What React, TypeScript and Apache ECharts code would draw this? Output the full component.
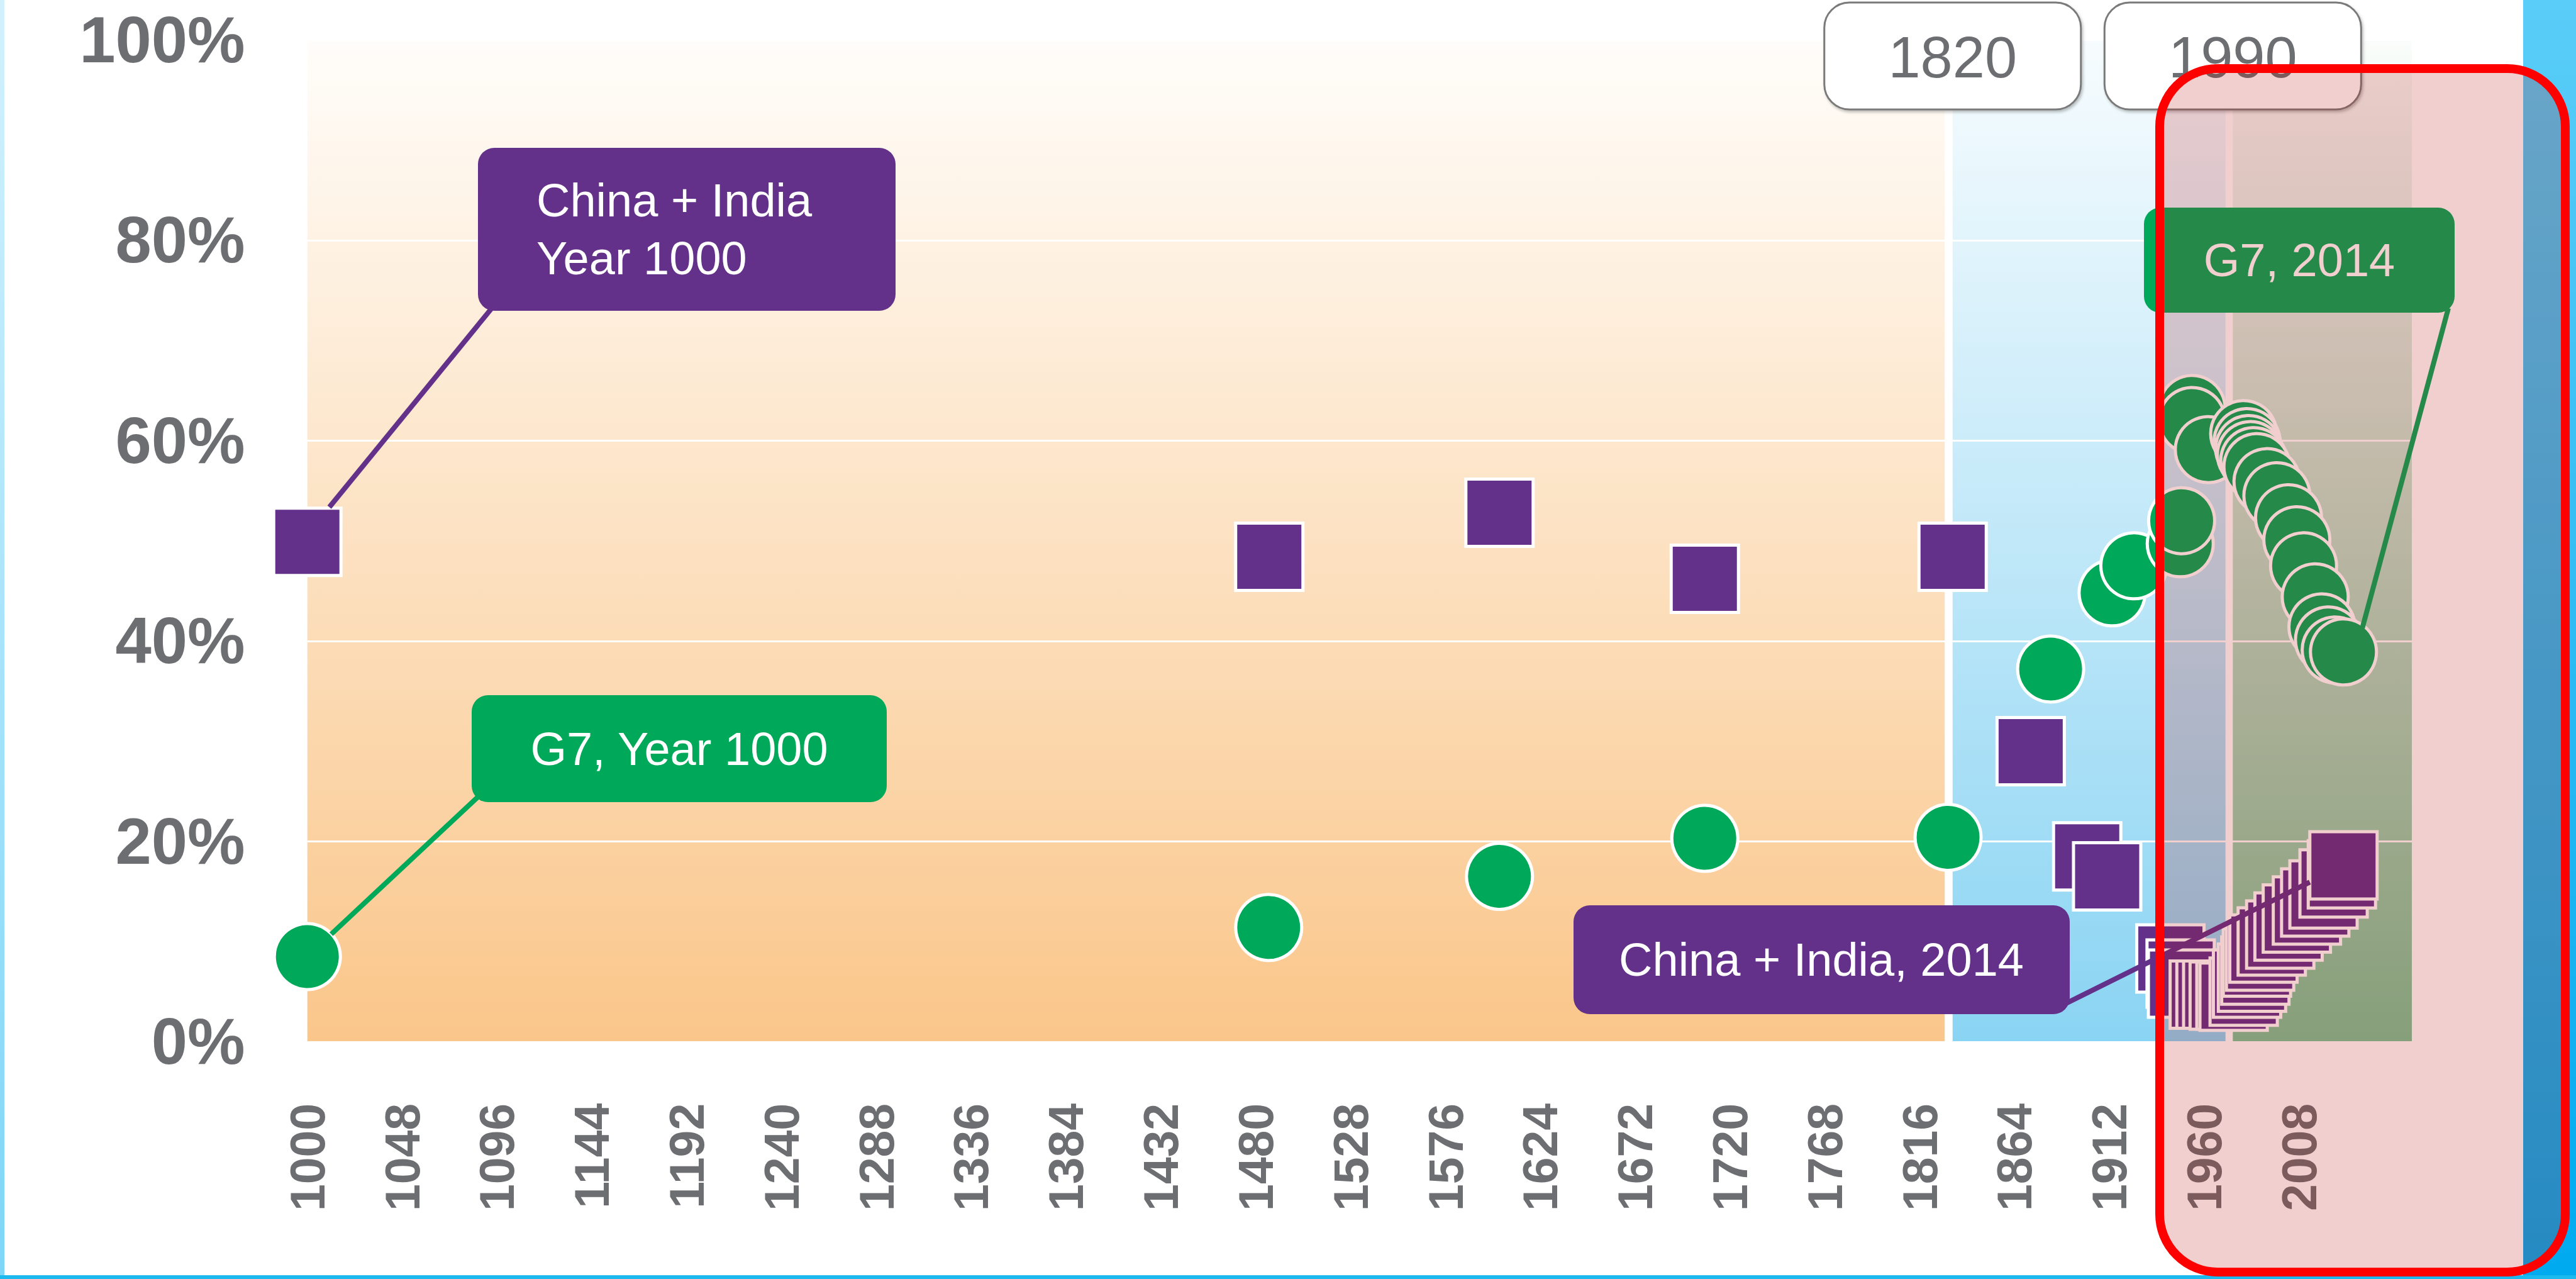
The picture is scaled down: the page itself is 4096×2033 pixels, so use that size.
import React, { useEffect, useRef } from "react";
import * as echarts from "echarts";

// ---- data (x values) ----
const xTickLabels = [1000, 1048, 1096, 1144, 1192, 1240, 1288, 1336, 1384, 1432, 1480, 1528, 1576, 1624, 1672, 1720, 1768, 1816, 1864, 1912, 1960, 2008];
const yTickValues = [0, 20, 40, 60, 80, 100];

const g7X = [1000, 1486.5, 1603.3, 1707.2, 1830.3, 1882.2, 1913.3, 1924.3, 1947.8, 1948.5, 1953.8, 1953.8, 1962.0, 1979.9, 1981.6, 1982.4, 1983.3, 1985.0, 1986.6, 1991.7, 1996.7, 2002.6, 2006.8, 2010.2, 2016.1, 2019.5, 2022.8, 2026.2, 2030.4];
const g7Share = [8.5, 11.4, 16.5, 20.3, 20.4, 37.2, 44.8, 47.5, 49.7, 52.0, 63.2, 62.0, 59.1, 60.7, 59.9, 59.2, 58.6, 58.0, 57.4, 55.9, 54.5, 52.3, 50.1, 47.5, 44.4, 41.4, 40.1, 39.1, 38.9];

const ciX = [1000, 1486.8, 1603.3, 1707.2, 1832.6, 1872.1, 1900.7, 1910.8, 1942.8, 1948.0, 1948.7, 1959.7, 1963.1, 1966.5, 1969.8, 1973.2, 1974.8, 1979.9, 1981.6, 1984.1, 1985.8, 1986.6, 1988.2, 1989.9, 1994.1, 1998.4, 2002.6, 2006.8, 2011.9, 2016.1, 2020.3, 2025.4, 2029.6, 2030.4];
const ciShare = [49.9, 48.4, 52.8, 46.2, 48.4, 29.0, 18.5, 16.5, 8.3, 6.8, 5.8, 4.7, 4.7, 4.7, 4.6, 4.6, 4.5, 5.0, 5.8, 6.4, 7.1, 7.9, 8.5, 9.3, 10.0, 10.7, 11.5, 12.3, 13.1, 13.9, 14.7, 15.8, 16.7, 17.6];

const eraStart = [1000, 1832.6, 1974.4];
const eraEnd = [1828.6, 1970.7, 2065];
const eraTop = ["#FFFDFA", "#F7FCFE", "#FAFDFB"];
const eraBottom = ["#FAC68A", "#8AD4F3", "#7AC496"];
const eraLabels = ["1820", "1990"];

const annotationTexts = ["China + India\nYear 1000", "G7, Year 1000", "China + India, 2014", "G7, 2014"];

const PURPLE = "#63318A";
const GREEN = "#00A859";
const GRAY = "#6D6E71";
const FONT = '"Liberation Sans", Arial, Helvetica, sans-serif';

export default function App() {
  const ref = useRef<HTMLDivElement>(null);

  useEffect(() => {
    const chart = echarts.init(ref.current!, undefined, { renderer: "svg" });
    const grad = (top: string, bottom: string) =>
      new echarts.graphic.LinearGradient(0, 0, 0, 1, [
        { offset: 0, color: top },
        { offset: 1, color: bottom },
      ]);

    chart.setOption({
      animation: false,
      backgroundColor: "#ffffff",
      textStyle: { fontFamily: FONT },
      grid: { left: 488.7, right: 245.3, top: 63.3, bottom: 377.2, containLabel: false },
      xAxis: {
        type: "value",
        min: 1000,
        max: 2070,
        z: 1.5,
        axisLine: { show: false },
        axisTick: { show: false },
        splitLine: { show: false },
        axisLabel: {
          customValues: xTickLabels,
          rotate: 90,
          margin: 98,
          color: GRAY,
          fontSize: 77,
          fontWeight: "bold",
          fontFamily: FONT,
          formatter: (v: number) => String(v),
        },
      },
      yAxis: {
        type: "value",
        min: yTickValues[0],
        max: yTickValues[yTickValues.length - 1],
        interval: 20,
        z: 1.5,
        axisLine: { show: false },
        axisTick: { show: false },
        splitLine: { show: true, lineStyle: { color: "#ffffff", width: 3 } },
        axisLabel: {
          formatter: "{value}%",
          margin: 99,
          color: GRAY,
          fontSize: 103,
          fontWeight: "bold",
          fontFamily: FONT,
        },
      },
      series: [
        {
          type: "scatter",
          name: "China + India",
          silent: true,
          clip: false,
          z: 3,
          symbol: "rect",
          symbolSize: 107,
          itemStyle: { color: PURPLE, borderColor: "#ffffff", borderWidth: 5, opacity: 1 },
          data: ciX.map((x, i) => [x, ciShare[i]]),
          markArea: {
            silent: true,
            data: eraStart.map((s, i) => [
              {
                xAxis: s,
                yAxis: 0,
                itemStyle: { color: grad(eraTop[i], eraBottom[i]), opacity: 1, borderWidth: 0 },
              },
              { xAxis: eraEnd[i], yAxis: 100 },
            ]),
          },
        },
        {
          type: "scatter",
          name: "G7",
          silent: true,
          clip: false,
          z: 3,
          symbol: "circle",
          symbolSize: 105,
          itemStyle: { color: GREEN, borderColor: "#ffffff", borderWidth: 5, opacity: 1 },
          data: g7X.map((x, i) => [x, g7Share[i]]),
        },
      ],
    });

    const px = (x: number, y: number) => chart.convertToPixel({ gridIndex: 0 }, [x, y]) as number[];

    const ci0 = px(ciX[0], ciShare[0]);
    const g70 = px(g7X[0], g7Share[0]);
    const ciN = px(ciX[ciX.length - 1], ciShare[ciShare.length - 1]);
    const g7N = px(g7X[g7X.length - 1], g7Share[g7Share.length - 1]);

    const g7StartA = [765, 1262];
    const dx = g7StartA[0] - g70[0];
    const dy = g7StartA[1] - g70[1];
    const dl = Math.sqrt(dx * dx + dy * dy);
    const g70End = [g70[0] + (dx / dl) * 52, g70[1] + (dy / dl) * 52];

    const ciStartN = [3275, 1600];
    const cdx = ciStartN[0] - ciN[0];
    const cdy = ciStartN[1] - ciN[1];
    const ciNEnd = [ciN[0] - 53.5, ciN[1] + (cdy / Math.abs(cdx)) * 53.5];

    const era1 = px(eraStart[1], 100)[0];
    const era2 = px(eraStart[2], 100)[0];

    const leader = (x1: number, y1: number, x2: number, y2: number, color: string) => ({
      type: "line",
      z: 100,
      silent: true,
      shape: { x1, y1, x2, y2 },
      style: { stroke: color, lineWidth: 8 },
    });
    const box = (x: number, y: number, w: number, h: number, color: string) => ({
      type: "rect",
      z: 101,
      silent: true,
      shape: { x, y, width: w, height: h, r: 26 },
      style: { fill: color },
    });
    const label = (x: number, y: number, text: string, align: string) => ({
      type: "text",
      z: 102,
      silent: true,
      x,
      y,
      style: {
        text,
        fill: "#ffffff",
        fontSize: 74,
        fontFamily: FONT,
        fontWeight: "normal",
        align,
        verticalAlign: "middle",
        lineHeight: 92,
      },
    });
    const eraBox = (cx: number, text: string) => [
      {
        type: "rect",
        z: 103,
        silent: true,
        shape: { x: cx - 204, y: 4, width: 408, height: 170, r: 40 },
        style: {
          fill: "#ffffff",
          stroke: "#7A7A7A",
          lineWidth: 3,
          shadowBlur: 4,
          shadowOffsetX: 2,
          shadowOffsetY: 3,
          shadowColor: "rgba(0,0,0,0.25)",
        },
      },
      {
        type: "text",
        z: 104,
        silent: true,
        x: cx,
        y: 91,
        style: {
          text,
          fill: GRAY,
          fontSize: 92,
          fontFamily: FONT,
          align: "center",
          verticalAlign: "middle",
        },
      },
    ];

    chart.setOption({
      graphic: [
        // page frame
        {
          type: "rect",
          z: 50,
          silent: true,
          shape: { x: 0, y: 0, width: 7, height: 2033 },
          style: { fill: grad("#D2F1FD", "#7ED6F7") },
        },
        {
          type: "rect",
          z: 50,
          silent: true,
          shape: { x: 4012, y: 0, width: 84, height: 2033 },
          style: { fill: grad("#5ACDF8", "#00AAEF") },
        },
        {
          type: "rect",
          z: 50,
          silent: true,
          shape: { x: 0, y: 2027, width: 4096, height: 6 },
          style: { fill: "#1CB9EF" },
        },
        // leader lines
        leader(790, 480, ci0[0] + 35, ci0[1] - 55, PURPLE),
        leader(g7StartA[0], g7StartA[1], g70End[0], g70End[1], GREEN),
        leader(ciStartN[0], ciStartN[1], ciNEnd[0], ciNEnd[1], PURPLE),
        leader(3893, 490, g7N[0] + 30, g7N[1] - 38, GREEN),
        // annotation boxes
        box(760, 235, 664, 259, PURPLE),
        label(853, 364, annotationTexts[0], "left"),
        box(750, 1105, 660, 170, GREEN),
        label(1080, 1190, annotationTexts[1], "center"),
        box(2502, 1439, 789, 173, PURPLE),
        label(2896, 1525, annotationTexts[2], "center"),
        box(3409, 330, 494, 167, GREEN),
        label(3656, 413, annotationTexts[3], "center"),
        // era boxes
        ...eraBox(era1, eraLabels[0]),
        ...eraBox(era2, eraLabels[1]),
        // highlight overlay
        {
          type: "rect",
          z: 200,
          silent: true,
          shape: { x: 3434, y: 109, width: 645, height: 1913, r: 92 },
          style: { fill: "rgba(185,15,15,0.2)", stroke: "#FF0000", lineWidth: 14 },
        },
      ],
    });

    return () => chart.dispose();
  }, []);

  return (
    <div
      ref={ref}
      style={{ position: "fixed", left: 0, top: 0, width: "4096px", height: "2033px" }}
    />
  );
}
